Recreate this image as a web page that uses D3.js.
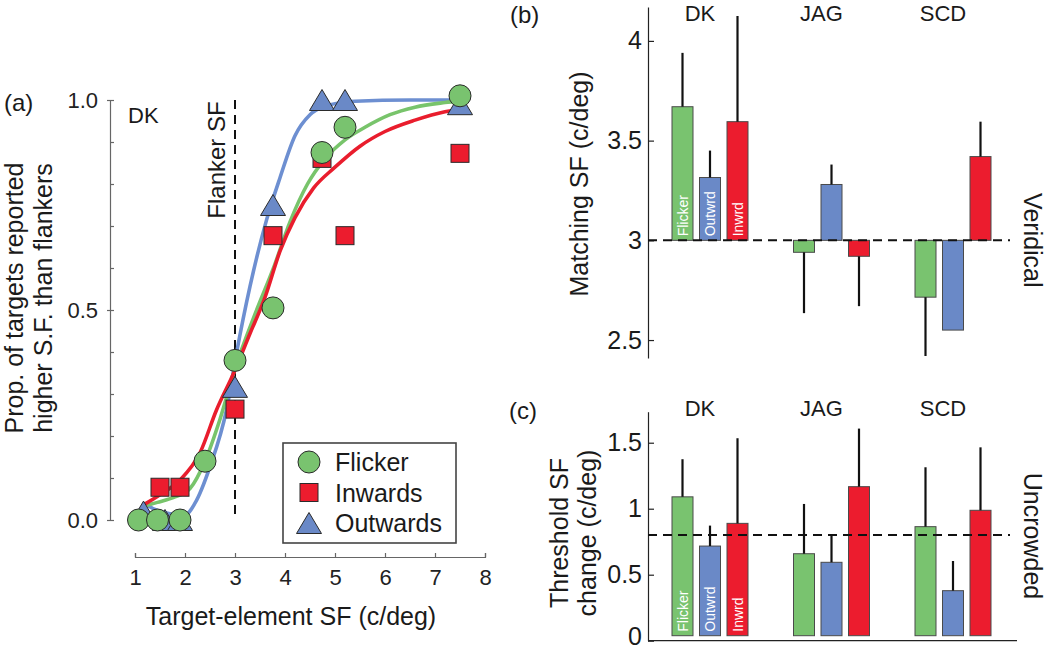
<!DOCTYPE html>
<html><head><meta charset="utf-8">
<script src="https://cdn.jsdelivr.net/npm/d3@7"></script>
<style>body{margin:0;background:#fff}svg{display:block}</style>
</head><body><svg id="chart" width="1050" height="650"></svg>
<script>
// ---------- Panel (a) data ----------
const flickerSF   = [1.07, 1.45, 1.9, 2.4, 3.0, 3.76, 4.74, 5.2, 7.5];
const flickerProp = [0, 0, 0, 0.14, 0.38, 0.505, 0.875, 0.935, 1.01];
const inwardsSF   = [1.5, 1.9, 3.0, 3.76, 4.74, 5.2, 7.5];
const inwardsProp = [0.078, 0.078, 0.264, 0.677, 0.861, 0.677, 0.873];
const outwardsSF  = [1.17, 1.6, 1.9, 3.0, 3.76, 4.74, 5.2, 7.5];
const outwardsProp= [0.02, 0, 0, 0.317, 0.75, 1.0, 1.0, 0.99];

// fitted psychometric curves
const fitFlickerSF   = [1.16,1.45,1.8,2.1,2.4,2.7,3.0,3.4,3.77,4.1,4.45,4.8,5.2,5.6,6.1,6.6,7.2,7.5];
const fitFlickerProp = [0.033,0.042,0.055,0.075,0.14,0.24,0.36,0.49,0.60,0.71,0.80,0.86,0.905,0.935,0.965,0.983,0.994,0.998];
const fitInwardsSF   = [1.17,1.5,1.9,2.3,2.63,2.97,3.3,3.6,3.9,4.2,4.57,5.0,5.5,6.0,6.6,7.2,7.5];
const fitInwardsProp = [0.036,0.06,0.095,0.16,0.262,0.349,0.444,0.53,0.64,0.72,0.79,0.84,0.89,0.925,0.952,0.972,0.978];
const fitOutwardsSF  = [1.18,1.4,1.7,2.0,2.2,2.5,2.83,3.03,3.3,3.63,3.9,4.2,4.5,4.8,5.4,6.5,7.5];
const fitOutwardsProp= [0.04,0.025,0.015,0.012,0.04,0.127,0.262,0.397,0.556,0.714,0.815,0.915,0.965,0.985,0.997,1.0,1.0];

const xTicksA = [1,2,3,4,5,6,7,8];
const yTicksA = [0, 0.5, 1];
const flankerSF = 3;

// ---------- Panels (b) & (c) data ----------
const observers  = ["DK", "JAG", "SCD"];
const conditions = ["Flicker", "Outwrd", "Inwrd"];
const matchFlicker = [3.67, 2.94, 2.715];
const matchOutwrd  = [3.315, 3.28, 2.55];
const matchInwrd   = [3.595, 2.92, 3.42];
const matchErrFlicker = [0.27, 0.305, 0.295];
const matchErrOutwrd  = [0.135, 0.10, 0];
const matchErrInwrd   = [0.53, 0.25, 0.175];
const veridical = 3;
const yTicksB = [2.5, 3, 3.5, 4];

const threshFlicker = [1.09, 0.659, 0.864];
const threshOutwrd  = [0.717, 0.594, 0.379];
const threshInwrd   = [0.889, 1.167, 0.988];
const threshErrFlicker = [0.285, 0.377, 0.45];
const threshErrOutwrd  = [0.155, 0.20, 0.225];
const threshErrInwrd   = [0.645, 0.44, 0.477];
const uncrowded = 0.8;
const yTicksC = [0, 0.5, 1, 1.5];

// ---------- styles ----------
const FONT = '"Liberation Sans", Arial, Helvetica, sans-serif';
const C = {Flicker: "#79c36f", Inwrd: "#ec1c2e", Outwrd: "#6a89c7"};
const LINE = {Flicker: "#78c46b", Inwards: "#e91d2d", Outwards: "#6d8fd1"};

const svg = d3.select("#chart").attr("font-family", FONT);

// ===================== Panel (a) =====================
const xA = d3.scaleLinear().domain([1, 8]).range([135, 485]);
const yA = d3.scaleLinear().domain([0, 1]).range([520, 100]);
const gA = svg.append("g");

// y axis: labelled outward ticks
const yAxA = gA.append("g").attr("transform", `translate(110,0)`)
  .call(d3.axisLeft(yA).tickValues(yTicksA).tickSizeInner(3).tickSizeOuter(3).tickPadding(9).tickFormat(d3.format(".1f")));
yAxA.attr("font-family", FONT).attr("font-size", 22);
yAxA.selectAll("path,line").attr("stroke", "#666").attr("stroke-width", 1.2);
yAxA.selectAll("text").attr("fill", "#222");
// minor inward ticks
const yMinA = gA.append("g").attr("transform", `translate(110,0)`)
  .call(d3.axisRight(yA).ticks(10).tickSize(4).tickFormat(""));
yMinA.select(".domain").remove();
yMinA.selectAll("line").attr("stroke", "#666").attr("stroke-width", 1.2);

// x axis
const xAxA = gA.append("g").attr("transform", `translate(0,557)`)
  .call(d3.axisBottom(xA).tickValues(xTicksA).tickSizeInner(-4).tickSizeOuter(-4).tickPadding(12).tickFormat(d3.format("d")));
xAxA.attr("font-family", FONT).attr("font-size", 22);
xAxA.selectAll("path,line").attr("stroke", "#666").attr("stroke-width", 1.2);
xAxA.selectAll("text").attr("fill", "#222");

// flanker dashed line
gA.append("line")
  .attr("x1", xA(flankerSF)).attr("x2", xA(flankerSF))
  .attr("y1", yA(1)).attr("y2", yA(0))
  .attr("stroke", "#111").attr("stroke-width", 2).attr("stroke-dasharray", "9,6");

// curves
const lineGen = d3.line().x(d => xA(d[0])).y(d => yA(d[1])).curve(d3.curveMonotoneX);
const curves = [
  ["Outwards", fitOutwardsSF, fitOutwardsProp],
  ["Flicker", fitFlickerSF, fitFlickerProp],
  ["Inwards", fitInwardsSF, fitInwardsProp]
];
curves.forEach(([name, xs, ys]) => {
  gA.append("path").datum(d3.zip(xs, ys))
    .attr("d", lineGen).attr("fill", "none")
    .attr("stroke", LINE[name]).attr("stroke-width", 3.6);
});

// markers
function marker(sel, type) {
  if (type === "circle") {
    sel.append("circle").attr("r", 11).attr("fill", C.Flicker);
  } else if (type === "square") {
    sel.append("rect").attr("x", -9).attr("y", -9).attr("width", 18).attr("height", 18).attr("fill", C.Inwrd);
  } else {
    sel.append("path").attr("d", "M0,-10.5L12.5,10.5L-12.5,10.5Z").attr("fill", C.Outwrd);
  }
  sel.selectAll("*").attr("stroke", "#2b2b2b").attr("stroke-width", 1);
}
const series = [
  ["triangle", outwardsSF, outwardsProp],
  ["square", inwardsSF, inwardsProp],
  ["circle", flickerSF, flickerProp]
];
series.forEach(([type, xs, ys]) => {
  d3.zip(xs, ys).forEach(d => {
    const g = gA.append("g").attr("transform", `translate(${xA(d[0])},${yA(d[1])})`);
    marker(g, type);
  });
});

// legend
const legend = gA.append("g");
legend.append("rect").attr("x", 283).attr("y", 443).attr("width", 173).attr("height", 100)
  .attr("fill", "#fff").attr("stroke", "#444").attr("stroke-width", 1.6);
const legItems = [["circle", "Flicker"], ["square", "Inwards"], ["triangle", "Outwards"]];
legItems.forEach(([type, label], i) => {
  const cy = 462 + i * 30.5;
  const g = legend.append("g").attr("transform", `translate(309,${cy})`);
  marker(g, type);
  legend.append("text").attr("x", 335).attr("y", cy).attr("dy", "0.36em")
    .attr("font-size", 25).attr("fill", "#1a1a1a").text(label);
});

// texts panel (a)
svg.append("text").attr("x", 4).attr("y", 111).attr("font-size", 24).attr("fill", "#1a1a1a").text("(a)");
svg.append("text").attr("x", 128).attr("y", 123).attr("font-size", 22).attr("fill", "#1a1a1a").text("DK");
svg.append("text").attr("transform", `translate(225,160) rotate(-90)`).attr("text-anchor", "middle")
  .attr("font-size", 24).attr("fill", "#1a1a1a").text("Flanker SF");
const ylabA = svg.append("text").attr("transform", `translate(0,298) rotate(-90)`).attr("text-anchor", "middle")
  .attr("font-size", 25).attr("fill", "#1a1a1a");
ylabA.append("tspan").attr("x", 0).attr("y", 23).text("Prop. of targets reported");
ylabA.append("tspan").attr("x", 0).attr("y", 52).text("higher S.F. than flankers");
svg.append("text").attr("x", 291).attr("y", 625).attr("text-anchor", "middle")
  .attr("font-size", 25).attr("fill", "#1a1a1a").text("Target-element SF (c/deg)");

// ===================== Panels (b) & (c) shared x =====================
const xG = d3.scalePoint().domain(observers).range([710, 953]);
const xC = d3.scalePoint().domain(conditions).range([-27.5, 27.5]);
const BW = 21;
const axisX = xG(observers[0]) - 62;
const axisEnd = xG(observers[observers.length - 1]) + 64;
const dashEnd = xG(observers[observers.length - 1]) + 57;

function barPanel(opts) {
  const {y, vals, errs, ref, base, ticks, labelY, dashRef, sideLabel, sideY} = opts;
  const g = svg.append("g");
  // axis
  const ax = g.append("g").attr("transform", `translate(${axisX},0)`)
    .call(d3.axisLeft(y).tickValues(ticks).tickSizeInner(-6).tickSizeOuter(0).tickPadding(6).tickFormat(d3.format("~g")));
  ax.attr("font-family", FONT).attr("font-size", 25);
  ax.selectAll("path,line").attr("stroke", "#222").attr("stroke-width", 1.2);
  ax.selectAll("text").attr("fill", "#1a1a1a");
  // bars
  observers.forEach((obs, oi) => {
    conditions.forEach((cond, ci) => {
      const v = vals[cond][oi];
      const e = errs[cond][oi];
      const cx = xG(obs) + xC(cond);
      const yb = base;
      const yv = y(v);
      g.append("rect")
        .attr("x", cx - BW / 2).attr("width", BW)
        .attr("y", Math.min(yv, yb)).attr("height", Math.abs(yb - yv))
        .attr("fill", C[cond]).attr("stroke", "#4a4a4a").attr("stroke-width", 1);
      if (e > 0) {
        const dir = v >= ref ? 1 : -1;
        g.append("line").attr("x1", cx).attr("x2", cx)
          .attr("y1", yv).attr("y2", y(v + dir * e))
          .attr("stroke", "#111").attr("stroke-width", 2.2);
      }
      if (oi === 0) {
        g.append("text").attr("transform", `translate(${cx + 5},${yb - 4}) rotate(-90)`)
          .attr("font-size", 14).attr("fill", "#fff").text(cond);
      }
    });
    g.append("text").attr("x", xG(obs) - 10).attr("y", labelY).attr("text-anchor", "middle")
      .attr("font-size", 22).attr("fill", "#1a1a1a").text(obs);
  });
  // dashed reference line
  g.append("line").attr("x1", axisX).attr("x2", dashEnd)
    .attr("y1", y(dashRef)).attr("y2", y(dashRef))
    .attr("stroke", "#111").attr("stroke-width", 2).attr("stroke-dasharray", "9,6");
  g.append("text").attr("transform", `translate(1024,${sideY}) rotate(90)`).attr("text-anchor", "middle")
    .attr("font-size", 25).attr("fill", "#1a1a1a").text(sideLabel);
  return {g, ax};
}

// ---- Panel (b)
const yB = d3.scaleLinear().domain([2.41, 4.17]).range([358, 7]);
barPanel({
  y: yB,
  vals: {Flicker: matchFlicker, Outwrd: matchOutwrd, Inwrd: matchInwrd},
  errs: {Flicker: matchErrFlicker, Outwrd: matchErrOutwrd, Inwrd: matchErrInwrd},
  ref: veridical, base: yB(veridical), ticks: yTicksB, labelY: 21,
  dashRef: veridical, sideLabel: "Veridical", sideY: yB(veridical)
});
svg.append("text").attr("x", 510).attr("y", 23).attr("font-size", 24).attr("fill", "#1a1a1a").text("(b)");
svg.append("text").attr("transform", `translate(588,184) rotate(-90)`).attr("text-anchor", "middle")
  .attr("font-size", 25).attr("fill", "#1a1a1a").text("Matching SF (c/deg)");

// ---- Panel (c)
const yCc = d3.scaleLinear().domain([0, 1.735]).range([640.7, 411.7]);
const pC = barPanel({
  y: yCc,
  vals: {Flicker: threshFlicker, Outwrd: threshOutwrd, Inwrd: threshInwrd},
  errs: {Flicker: threshErrFlicker, Outwrd: threshErrOutwrd, Inwrd: threshErrInwrd},
  ref: 0, base: yCc(0) - 5, ticks: yTicksC, labelY: 416,
  dashRef: uncrowded, sideLabel: "Uncrowded", sideY: 536
});
// keep the "0" label inside the picture
pC.ax.selectAll(".tick").filter(d => d === 0).select("text").attr("y", -4);
pC.g.append("line").attr("x1", axisX).attr("x2", axisEnd)
  .attr("y1", yCc(0)).attr("y2", yCc(0)).attr("stroke", "#222").attr("stroke-width", 1.2);
svg.append("text").attr("x", 509).attr("y", 419).attr("font-size", 24).attr("fill", "#1a1a1a").text("(c)");
const ylabC = svg.append("text").attr("transform", `translate(0,533) rotate(-90)`).attr("text-anchor", "middle")
  .attr("font-size", 25).attr("fill", "#1a1a1a");
ylabC.append("tspan").attr("x", 0).attr("y", 568).text("Threshold SF");
ylabC.append("tspan").attr("x", 0).attr("y", 596).text("change (c/deg)");
</script></body></html>
